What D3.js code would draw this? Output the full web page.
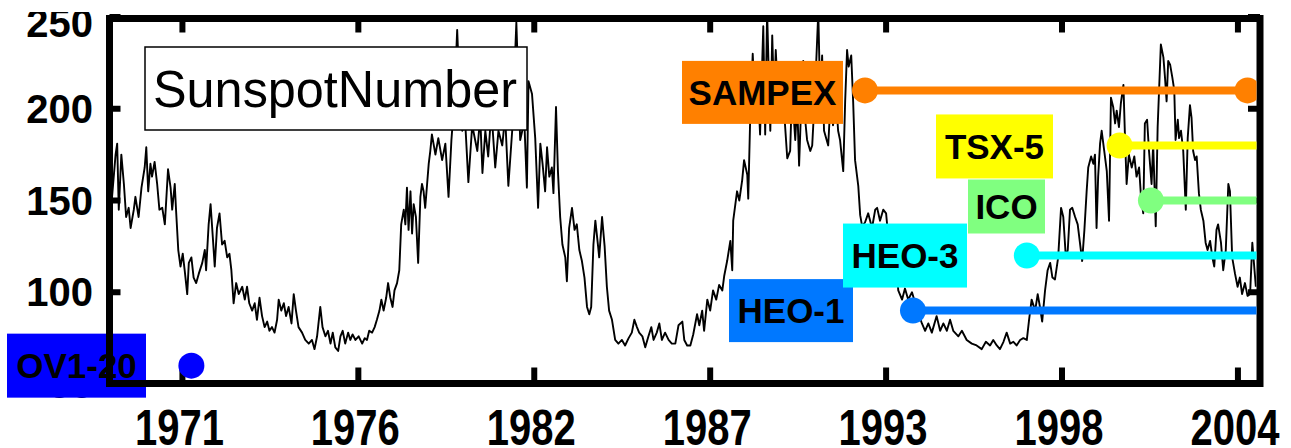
<!DOCTYPE html>
<html>
<head>
<meta charset="utf-8">
<script src="https://cdn.jsdelivr.net/npm/d3@7"></script>
<style>
  html, body { margin: 0; padding: 0; background: #fff; }
  svg { display: block; }
  text { font-family: "Liberation Sans", Arial, sans-serif; }
</style>
</head>
<body>
<svg id="chart" width="1291" height="448"></svg>
<script>
// ---------------- data ----------------
const years = [1968.80,1968.91,1968.96,1969.01,1969.09,1969.17,1969.24,1969.32,1969.38,1969.48,1969.53,1969.63,1969.72,1969.82,1969.87,1969.93,1970.00,1970.05,1970.13,1970.21,1970.28,1970.37,1970.45,1970.55,1970.63,1970.68,1970.76,1970.80,1970.87,1970.94,1971.01,1971.07,1971.15,1971.20,1971.28,1971.35,1971.43,1971.51,1971.62,1971.70,1971.74,1971.82,1971.88,1971.95,1972.01,1972.08,1972.16,1972.24,1972.32,1972.40,1972.47,1972.53,1972.60,1972.68,1972.76,1972.87,1972.95,1973.02,1973.09,1973.18,1973.26,1973.33,1973.41,1973.49,1973.57,1973.65,1973.72,1973.80,1973.88,1973.96,1974.01,1974.09,1974.17,1974.24,1974.32,1974.41,1974.48,1974.55,1974.63,
1974.74,1974.84,1974.95,1975.05,1975.13,1975.21,1975.31,1975.38,1975.47,1975.55,1975.63,1975.70,1975.78,1975.87,1975.94,1976.01,1976.09,1976.18,1976.25,1976.32,1976.41,1976.51,1976.62,1976.70,1976.77,1976.84,1976.93,1977.01,1977.08,1977.16,1977.22,1977.29,1977.37,1977.43,1977.50,1977.57,1977.63,1977.71,1977.78,1977.84,1977.92,1977.97,1978.02,1978.07,1978.13,1978.18,1978.23,1978.30,1978.37,1978.44,1978.49,1978.54,1978.59,1978.65,1978.70,1978.75,1978.80,
1978.91,1979.00,1979.12,1979.22,1979.32,1979.41,1979.50,1979.59,1979.69,1979.75,1979.84,1979.94,1980.06,1980.22,1980.31,1980.38,1980.47,1980.56,1980.66,1980.78,1980.88,1981.00,1981.09,1981.19,1981.31,1981.44,1981.56,1981.69,1981.77,1981.82,1981.93,1982.03,1982.12,1982.19,1982.26,1982.34,1982.40,1982.47,1982.55,1982.60,1982.68,1982.74,1982.81,1982.88,1982.97,1983.02,1983.09,1983.18,1983.26,1983.33,1983.41,1983.49,1983.57,1983.65,1983.72,1983.78,1983.85,1983.91,1983.99,1984.03,1984.12,1984.20,1984.27,1984.34,1984.43,1984.53,1984.63,1984.74,1984.84,1984.95,1985.05,1985.13,1985.21,1985.28,1985.38,1985.47,1985.57,1985.66,1985.73,1985.83,1985.91,1985.99,1986.09,1986.20,1986.30,1986.41,1986.51,1986.63,1986.69,1986.78,1986.88,1986.97,1987.09,1987.16,1987.25,1987.31,1987.41,1987.50,1987.59,1987.69,1987.78,1987.88,1987.94,1988.03,1988.13,1988.19,1988.22,1988.34,1988.41,1988.50,1988.56,1988.66,1988.69,1988.75,1988.83,1988.91,1989.00,1989.06,1989.16,1989.22,1989.28,1989.38,1989.44,1989.50,1989.55,1989.63,1989.72,1989.81,1989.91,1990.00,1990.06,1990.16,1990.22,1990.28,1990.34,1990.41,1990.47,1990.53,1990.63,1990.69,1990.78,1990.88,1990.94,1991.00,1991.06,1991.19,1991.28,1991.34,1991.44,1991.50,1991.56,1991.66,1991.72,1991.78,1991.83,1991.91,1991.97,1992.03,1992.13,1992.19,1992.25,1992.34,1992.44,1992.56,1992.66,1992.72,1992.81,1992.91,1993.00,1993.09,1993.19,1993.28,1993.38,1993.50,1993.59,1993.69,1993.81,1993.91,1994.00,1994.12,1994.22,1994.32,1994.43,1994.58,1994.69,1994.79,1994.90,1995.00,1995.10,1995.26,1995.37,1995.52,1995.68,1995.83,1995.99,1996.12,1996.25,1996.35,1996.46,1996.56,1996.67,1996.77,1996.88,1996.98,1997.08,1997.19,1997.29,1997.40,1997.47,1997.55,1997.66,1997.74,1997.81,1997.88,1997.97,1998.05,1998.13,1998.20,1998.28,1998.38,1998.47,1998.54,1998.62,1998.68,1998.75,1998.82,1998.91,1998.99,1999.06,1999.13,1999.20,1999.27,1999.32,1999.41,1999.48,1999.53,1999.58,1999.63,1999.69,1999.74,1999.82,1999.90,1999.97,2000.03,2000.10,2000.16,2000.21,2000.28,2000.34,2000.42,2000.47,2000.52,2000.59,2000.68,2000.76,2000.83,2000.91,2000.97,2001.04,2001.09,2001.16,2001.22,2001.30,2001.35,2001.43,2001.49,2001.53,2001.59,2001.67,2001.72,2001.77,2001.82,2001.88,2001.95,2002.01,2002.05,2002.12,2002.16,2002.22,2002.29,2002.37,2002.43,2002.50,2002.55,2002.60,2002.66,2002.71,2002.78,2002.84,2002.92,2002.99,2003.05,2003.13,2003.20,2003.26,2003.33,2003.38,2003.47,2003.54,2003.62,2003.70,2003.75,2003.82,2003.91,2003.99,2004.06,2004.13,2004.22,2004.30,2004.38,2004.45,2004.50,2004.56];

const sunspot = [152,175,181,145,175,159,141,146,135,145,152,141,157,168,179,155,170,163,171,159,145,146,137,167,157,145,159,145,123,114,121,112,99,116,119,108,105,110,116,123,112,137,148,130,114,135,143,126,128,119,121,112,94,105,99,103,96,103,94,90,94,85,97,87,81,84,79,81,78,85,96,90,94,87,92,83,99,90,81,
78,74,72,74,69,76,92,81,76,79,72,78,70,68,76,79,72,78,74,77,74,76,72,75,74,79,78,81,85,90,96,90,97,105,97,92,101,105,112,137,145,137,157,134,155,132,148,141,116,152,159,155,146,159,170,177,186,
175,184,172,181,152,183,204,243,199,188,193,160,191,177,196,165,188,174,199,168,188,180,196,158,188,247,183,193,157,215,208,184,146,181,170,155,179,163,168,154,201,166,141,126,119,106,135,146,134,137,123,117,108,92,88,92,126,139,126,119,141,125,103,90,85,74,72,74,71,75,78,85,81,78,76,70,76,81,74,78,83,74,78,74,72,72,82,84,74,71,71,77,88,82,90,79,96,90,101,96,104,101,109,117,128,112,139,155,150,161,172,164,151,194,230,199,210,186,245,186,253,188,240,204,232,204,215,199,173,177,210,183,204,169,199,226,194,183,177,180,210,253,204,229,188,180,210,191,204,188,183,166,204,232,223,229,204,172,158,142,136,138,143,135,145,146,139,145,143,126,117,123,101,96,102,96,100,94,89,83,79,83,78,87,79,83,79,85,79,76,79,74,72,71,69,73,71,74,71,69,73,78,72,73,71,74,75,74,85,96,90,99,92,84,101,112,116,108,107,119,146,141,119,123,145,146,141,137,127,117,134,155,168,174,170,175,135,163,181,188,177,166,139,206,201,192,199,190,203,213,184,159,175,168,174,163,168,152,143,192,194,177,159,181,136,190,208,235,228,217,204,226,224,217,210,183,194,184,188,177,145,184,202,195,177,172,174,154,145,139,127,123,128,119,114,134,137,127,112,123,159,155,119,110,103,108,99,105,98,99,127,116,103];

// satellites (missions): label, first year, last year, level on the y axis
const satNames  = ["OV1-20", "HEO-1", "HEO-3", "ICO", "TSX-5", "SAMPEX"];
const satStart  = [1971.28, 1993.84, 1997.40, 2001.28, 2000.30, 1992.34];
const satEnd    = [1971.28, 2004.80, 2004.80, 2004.80, 2004.80, 2004.30];
const satEndDot = [false, false, false, false, false, true];
const satLevel  = [60, 90, 120, 150, 180, 210];

// axes
const xTickValues = [1971, 1976.5, 1982, 1987.5, 1993, 1998.5, 2004];
const xTickLabels = ["1971", "1976", "1982", "1987", "1993", "1998", "2004"];
const yTickValues = [50, 100, 150, 200, 250];
const yTickLabels = ["50", "100", "150", "200", "250"];
const xDomain = [1968.72, 2004.69];
const yDomain = [50, 250];
const legendText = "SunspotNumber";

// ---------------- layout / style ----------------
const satColor = ["#0000ff", "#0078ff", "#00ffff", "#80ff80", "#ffff00", "#ff8000"];
const labelCX  = [76.5, 791, 905, 1006.5, 994.5, 762.5];
const labelDY  = [0, 0, 0, 6, 1, 2];
const labelW   = [139, 124, 124, 77, 117, 161];
const labelH   = [64, 63, 64, 54, 64, 63];

const L = 109.5, R = 1260, T = 18.5, B = 383.5, HW = 3.5;
const svg = d3.select("#chart");
const x = d3.scaleLinear().domain(xDomain).range([L, R]);
const y = d3.scaleLinear().domain(yDomain).range([384, 17]);

const defs = svg.append("defs");
defs.append("clipPath").attr("id", "plotclip")
  .append("rect").attr("x", L + HW).attr("y", T + HW)
  .attr("width", R - L - 2 * HW).attr("height", B - T - 2 * HW);
defs.append("clipPath").attr("id", "topclip")
  .append("rect").attr("x", 0).attr("y", 12).attr("width", 1291).attr("height", 436);

// sunspot curve
const pts = years.map((t, i) => [t, sunspot[i]]);
svg.append("path")
  .attr("clip-path", "url(#plotclip)")
  .attr("d", d3.line().x(d => x(d[0])).y(d => y(d[1]))(pts))
  .attr("fill", "none").attr("stroke", "#000").attr("stroke-width", 1.9)
  .attr("stroke-linejoin", "round");

// legend box
const lg = svg.append("g");
lg.append("rect").attr("x", 145).attr("y", 47).attr("width", 382).attr("height", 83)
  .attr("fill", "#fff").attr("stroke", "#000").attr("stroke-width", 1.5);
lg.append("text").attr("x", 153).attr("y", 107).attr("font-size", 52)
  .attr("textLength", 364).attr("lengthAdjust", "spacingAndGlyphs")
  .text(legendText);

// y labels (left)
svg.append("g").attr("clip-path", "url(#topclip)")
  .selectAll("text").data(yTickValues).join("text")
  .attr("x", 93)
  .attr("y", d => y(d) + 14 + (d === 250 ? 6 : 0))
  .attr("text-anchor", "end").attr("font-size", 40).attr("font-weight", "bold")
  .text((d, i) => yTickLabels[i]);

// x labels (vertically stretched like the original)
svg.append("g").selectAll("text").data(xTickValues).join("text")
  .attr("transform", d => `translate(${x(d) - 3},445) scale(1,1.27)`)
  .attr("text-anchor", "middle").attr("font-size", 40).attr("font-weight", "bold")
  .text((d, i) => xTickLabels[i]);

// satellite label boxes (HEO-1 under HEO-3)
const order = [5, 4, 3, 1, 2, 0];
const lab = svg.append("g");
order.forEach(i => {
  const cy = y(satLevel[i]) + labelDY[i];
  lab.append("rect")
    .attr("x", labelCX[i] - labelW[i] / 2).attr("y", cy - labelH[i] / 2)
    .attr("width", labelW[i]).attr("height", labelH[i]).attr("fill", satColor[i]);
  lab.append("text").attr("x", labelCX[i]).attr("y", cy + 12.5)
    .attr("text-anchor", "middle").attr("font-size", 35).attr("font-weight", "bold")
    .attr("fill", "#000").text(satNames[i]);
});

// frame (drawn over the label boxes, as in the original)
svg.append("rect").attr("x", L).attr("y", T).attr("width", R - L).attr("height", B - T)
  .attr("fill", "none").attr("stroke", "#000").attr("stroke-width", 2 * HW);

// ticks (inward, all four sides)
const tk = svg.append("g").attr("stroke", "#000").attr("stroke-width", 6);
xTickValues.forEach(v => {
  tk.append("line").attr("x1", x(v)).attr("x2", x(v)).attr("y1", B).attr("y2", B - 16);
  tk.append("line").attr("x1", x(v)).attr("x2", x(v)).attr("y1", T).attr("y2", T + 14);
});
yTickValues.forEach(v => {
  tk.append("line").attr("x1", L).attr("x2", L + 11).attr("y1", y(v)).attr("y2", y(v));
  tk.append("line").attr("x1", R).attr("x2", R - 12).attr("y1", y(v)).attr("y2", y(v));
});

// satellite lines and markers
const sg = svg.append("g").attr("clip-path", "url(#plotclip)");
satNames.forEach((n, i) => {
  const yy = y(satLevel[i]);
  if (satEnd[i] > satStart[i]) {
    sg.append("line").attr("x1", x(satStart[i])).attr("x2", x(satEnd[i]))
      .attr("y1", yy).attr("y2", yy)
      .attr("stroke", satColor[i]).attr("stroke-width", 8);
  }
  sg.append("circle").attr("cx", x(satStart[i])).attr("cy", yy).attr("r", 13)
    .attr("fill", satColor[i]);
  if (satEndDot[i]) {
    sg.append("circle").attr("cx", x(satEnd[i])).attr("cy", yy).attr("r", 13)
      .attr("fill", satColor[i]);
  }
});
</script>
</body>
</html>
